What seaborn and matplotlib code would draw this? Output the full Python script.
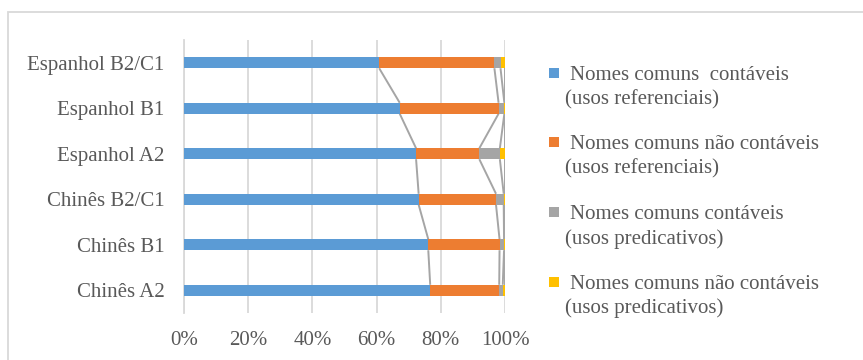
import numpy as np
import matplotlib
matplotlib.use("Agg")
import matplotlib.pyplot as plt
from matplotlib.patches import Rectangle
import seaborn as sns

# Categories (top to bottom) and the share (%) of each noun use type
categories = ["Espanhol B2/C1", "Espanhol B1", "Espanhol A2",
              "Chinês B2/C1", "Chinês B1", "Chinês A2"]
contaveis_ref = [60.8, 67.2, 72.3, 73.1, 76.1, 76.7]
nao_contaveis_ref = [35.9, 30.8, 19.7, 24.1, 22.2, 21.5]
contaveis_pred = [1.9, 1.8, 6.4, 2.4, 1.4, 1.1]
nao_contaveis_pred = [1.4, 0.2, 1.6, 0.4, 0.3, 0.7]

series_labels = [
    ("Nomes comuns  contáveis", "(usos referenciais)"),
    ("Nomes comuns não contáveis", "(usos referenciais)"),
    ("Nomes comuns contáveis", "(usos predicativos)"),
    ("Nomes comuns não contáveis", "(usos predicativos)"),
]
x_ticks = [0, 20, 40, 60, 80, 100]
x_tick_labels = ["0%", "20%", "40%", "60%", "80%", "100%"]

colors = ["#5B9BD5", "#ED7D31", "#A5A5A5", "#FFC000"]
text_color = "#595959"
grid_color = "#D9D9D9"

sns.set_style("white")
plt.rcParams["font.family"] = ["Liberation Serif", "DejaVu Serif"]

values = np.array([contaveis_ref, nao_contaveis_ref,
                   contaveis_pred, nao_contaveis_pred], dtype=float).T
values = values / values.sum(axis=1, keepdims=True) * 100
cum = np.cumsum(values, axis=1)

W, H = 863, 360
fig = plt.figure(figsize=(W / 100, H / 100), dpi=100)
ax = fig.add_axes([184 / W, 1 - 313 / H, (505 - 184) / W, (313 - 40) / H])

bar_h = 0.24
# 100% stacked bars: draw cumulative totals from the outermost layer inwards
for k in range(3, -1, -1):
    sns.barplot(x=cum[:, k], y=categories, order=categories, orient="h",
                color=colors[k], saturation=1, width=bar_h, errorbar=None,
                linewidth=0, ax=ax, zorder=3)

# Series lines joining segment ends of neighbouring bars
for k in range(4):
    for i in range(len(categories) - 1):
        ax.plot([cum[i, k], cum[i + 1, k]],
                [i + bar_h / 2, i + 1 - bar_h / 2],
                color="#A5A5A5", lw=1.4, zorder=2, solid_capstyle="butt")

ax.set_xlim(0, 100)
ax.set_ylim(len(categories) - 0.5, -0.5)
ax.set_xticks(x_ticks)
ax.set_xticklabels(x_tick_labels)
ax.set_xlabel("")
ax.set_ylabel("")
ax.set_axisbelow(True)
ax.xaxis.grid(True, color=grid_color, lw=1.3)
ax.yaxis.grid(False)
for side in ["top", "right", "bottom"]:
    ax.spines[side].set_visible(False)
ax.spines["left"].set_color(grid_color)
ax.spines["left"].set_linewidth(1.3)
ax.tick_params(axis="x", length=0, pad=13, labelsize=15, labelcolor=text_color)
ax.tick_params(axis="y", length=0, pad=14, labelsize=15, labelcolor=text_color)

# Legend drawn beside the plot, square aligned with the first line
for i, (line1, line2) in enumerate(series_labels):
    base = 79.5 + 69.8 * i
    fig.patches.append(Rectangle((549 / W, 1 - (base - 2) / H), 10 / W, 10 / H,
                                 transform=fig.transFigure, facecolor=colors[i],
                                 edgecolor="none"))
    fig.text(570 / W, 1 - base / H, line1, fontsize=15, color=text_color,
             va="baseline", ha="left")
    fig.text(565 / W, 1 - (base + 24.5) / H, line2, fontsize=15,
             color=text_color, va="baseline", ha="left")

# Chart frame
fig.patches.append(Rectangle((8 / W, -0.2), 1.5, 1.2 - 12 / H + 0.0,
                             transform=fig.transFigure, fill=False,
                             edgecolor=grid_color, lw=1.3, clip_on=False))

fig.savefig("out.png", dpi=100, facecolor="white")
